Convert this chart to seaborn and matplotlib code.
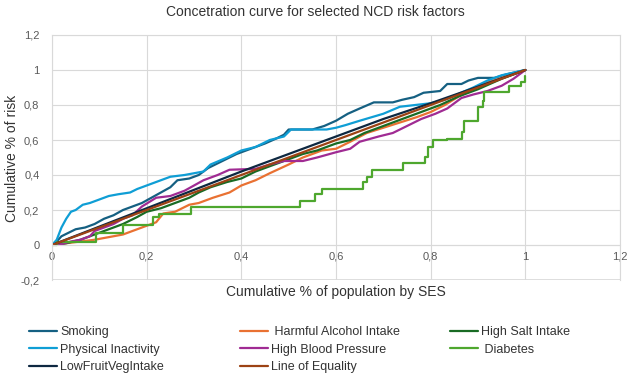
"""
Concentration curves for selected NCD risk factors (Excel-style line chart).
"""

import numpy as np
import pandas as pd
import seaborn as sns
import matplotlib.pyplot as plt
from matplotlib.ticker import FuncFormatter


# données
smoking_x = [0, 0.01, 0.02, 0.035, 0.05, 0.07, 0.09, 0.11, 0.13, 0.15, 0.17, 0.19, 0.21, 0.23, 0.25,
             0.265, 0.29, 0.31, 0.33, 0.36, 0.39, 0.42, 0.45, 0.475, 0.49, 0.5, 0.55, 0.575, 0.6,
             0.625, 0.65, 0.68, 0.72, 0.74, 0.765, 0.785, 0.82, 0.835, 0.865, 0.88, 0.9, 0.935, 0.96, 1.0]
smoking_y = [0, 0.02, 0.05, 0.07, 0.09, 0.10, 0.12, 0.15, 0.17, 0.2, 0.22, 0.24, 0.27, 0.3, 0.33,
             0.37, 0.38, 0.4, 0.44, 0.48, 0.52, 0.55, 0.58, 0.61, 0.63, 0.66, 0.66, 0.68, 0.71,
             0.75, 0.78, 0.815, 0.815, 0.83, 0.845, 0.87, 0.88, 0.92, 0.92, 0.94, 0.955, 0.955, 0.975, 1.0]

inactivity_x = [0, 0.01, 0.02, 0.03, 0.04, 0.05, 0.065, 0.08, 0.1, 0.12, 0.14, 0.165, 0.18, 0.2, 0.22,
                0.25, 0.28, 0.32, 0.335, 0.37, 0.4, 0.43, 0.46, 0.49, 0.505, 0.58, 0.6, 0.62, 0.65,
                0.7, 0.735, 0.8, 0.83, 0.86, 0.89, 0.92, 0.95, 1.0]
inactivity_y = [0, 0.03, 0.1, 0.15, 0.19, 0.2, 0.23, 0.24, 0.26, 0.28, 0.29, 0.3, 0.32, 0.34, 0.36,
                0.39, 0.4, 0.42, 0.46, 0.5, 0.54, 0.56, 0.6, 0.62, 0.66, 0.66, 0.67, 0.685, 0.71,
                0.75, 0.79, 0.81, 0.83, 0.865, 0.9, 0.94, 0.97, 1.0]

fruitveg_x = [0, 0.1, 0.2, 0.3, 0.4, 0.5, 0.6, 0.7, 0.8, 0.9, 1.0]
fruitveg_y = [0, 0.105, 0.21, 0.315, 0.42, 0.52, 0.62, 0.72, 0.81, 0.905, 1.0]

alcohol_x = [0, 0.03, 0.06, 0.09, 0.11, 0.13, 0.15, 0.17, 0.2, 0.22, 0.235, 0.26, 0.29, 0.31, 0.34,
             0.375, 0.4, 0.43, 0.46, 0.5, 0.53, 0.57, 0.6, 0.63, 0.665, 0.7, 0.735, 0.77, 0.8, 0.83,
             0.86, 0.89, 0.92, 0.955, 1.0]
alcohol_y = [0, 0.01, 0.02, 0.03, 0.04, 0.05, 0.06, 0.08, 0.11, 0.13, 0.18, 0.19, 0.23, 0.24, 0.27,
             0.3, 0.34, 0.37, 0.41, 0.46, 0.5, 0.54, 0.55, 0.59, 0.64, 0.67, 0.7, 0.73, 0.76, 0.8,
             0.85, 0.89, 0.93, 0.96, 1.0]

bp_x = [0, 0.02, 0.04, 0.06, 0.08, 0.09, 0.11, 0.13, 0.15, 0.17, 0.19, 0.22, 0.25, 0.28, 0.3, 0.32,
        0.35, 0.375, 0.43, 0.46, 0.49, 0.53, 0.56, 0.6, 0.63, 0.65, 0.69, 0.72, 0.75, 0.78, 0.81,
        0.835, 0.865, 0.89, 0.92, 0.95, 0.975, 1.0]
bp_y = [0, 0.005, 0.02, 0.03, 0.05, 0.08, 0.1, 0.12, 0.15, 0.17, 0.22, 0.27, 0.28, 0.31, 0.34, 0.37,
        0.4, 0.43, 0.435, 0.46, 0.48, 0.48, 0.5, 0.53, 0.55, 0.59, 0.62, 0.64, 0.68, 0.72, 0.75,
        0.78, 0.84, 0.86, 0.88, 0.91, 0.95, 1.0]

salt_x = [0, 0.03, 0.06, 0.09, 0.12, 0.15, 0.18, 0.2, 0.23, 0.26, 0.29, 0.31, 0.335, 0.37, 0.4,
          0.43, 0.46, 0.49, 0.53, 0.56, 0.6, 0.63, 0.66, 0.7, 0.74, 0.78, 0.82, 0.86, 0.9, 0.95, 1.0]
salt_y = [0, 0.01, 0.03, 0.06, 0.09, 0.12, 0.16, 0.19, 0.21, 0.24, 0.27, 0.3, 0.33, 0.36, 0.38,
          0.42, 0.45, 0.48, 0.52, 0.54, 0.58, 0.6, 0.64, 0.68, 0.72, 0.76, 0.8, 0.85, 0.89, 0.95, 1.0]

diabetes_x = [0, 0.01, 0.093, 0.149, 0.213, 0.227, 0.294, 0.524, 0.555, 0.57, 0.657, 0.665, 0.675,
              0.741, 0.788, 0.795, 0.805, 0.835, 0.867, 0.87, 0.9, 0.91, 0.913, 0.965, 0.99, 1.0]
diabetes_y = [0, 0.02, 0.066, 0.114, 0.161, 0.18, 0.218, 0.25, 0.29, 0.322, 0.36, 0.39, 0.43,
              0.468, 0.503, 0.56, 0.6, 0.607, 0.645, 0.71, 0.787, 0.825, 0.872, 0.91, 0.93, 0.965]

equality_x = [0, 1]
equality_y = [0, 1]

x_ticks = [0, 0.2, 0.4, 0.6, 0.8, 1.0, 1.2]
y_ticks = [-0.2, 0, 0.2, 0.4, 0.6, 0.8, 1.0, 1.2]


def comma(v, pos):
    """format excel fr : 0,2"""
    s = f"{v:.1f}".rstrip("0").rstrip(".")
    if s == "-0":
        s = "0"
    return s.replace(".", ",")


def main():
    sns.set_style("white")
    plt.rcParams["font.family"] = ["Liberation Sans", "DejaVu Sans"]

    fig = plt.figure(figsize=(6.3, 3.83), dpi=100)
    ax = fig.add_axes([52 / 630, 1 - 280 / 383, 568 / 630, 245 / 383])

    grid_col = "#D9D9D9"
    lw = 1.6

    # ordre de tracé façon Excel, diagonale à la fin
    series = [
        ("Smoking", smoking_x, smoking_y, "#156082", None),
        (" Harmful Alcohol Intake", alcohol_x, alcohol_y, "#E97132", None),
        ("High Salt Intake", salt_x, salt_y, "#196B24", None),
        ("Physical Inactivity", inactivity_x, inactivity_y, "#0F9ED5", None),
        ("High Blood Pressure", bp_x, bp_y, "#A02B93", None),
        (" Diabetes", diabetes_x, diabetes_y, "#4EA72E", "steps-post"),
        ("LowFruitVegIntake", fruitveg_x, fruitveg_y, "#0E2841", None),
        ("Line of Equality", equality_x, equality_y, "#9C4214", None),
    ]
    for name, xs, ys, col, ds in series:
        df = pd.DataFrame({"x": xs, "y": ys})
        kw = {"drawstyle": ds} if ds else {}
        sns.lineplot(data=df, x="x", y="y", ax=ax, color=col, linewidth=lw,
                     label=name, sort=False, estimator=None, **kw)

    ax.set_xlim(0, 1.2)
    ax.set_ylim(-0.2, 1.2)
    ax.set_xticks(x_ticks)
    ax.set_yticks(y_ticks)
    ax.xaxis.set_major_formatter(FuncFormatter(comma))
    ax.yaxis.set_major_formatter(FuncFormatter(comma))
    ax.grid(True, color=grid_col, linewidth=0.8)
    ax.set_axisbelow(True)
    for sp in ax.spines.values():
        sp.set_color(grid_col)
        sp.set_linewidth(0.8)
    ax.spines["bottom"].set_position(("data", 0))
    ax.tick_params(axis="both", length=0, labelsize=8, labelcolor="#595959")
    ax.tick_params(axis="x", pad=5)
    ax.tick_params(axis="y", pad=9)
    ax.set_xlabel("")
    ax.set_ylabel("")

    # la ligne du bas à -0,2
    ax.axhline(-0.2, color=grid_col, linewidth=1.2, zorder=0)

    fig.text(0.5, 1 - 12 / 383, "Concetration curve for selected NCD risk factors",
             ha="center", va="center", fontsize=10, color="#333333")
    fig.text(336 / 630, 1 - 292 / 383, "Cumulative % of population by SES",
             ha="center", va="center", fontsize=10, color="#333333")
    fig.text(12 / 630, 1 - 158 / 383, "Cumulative % of risk", rotation=90,
             ha="center", va="center", fontsize=10, color="#333333")

    # légende en 3 colonnes
    handles, labels = ax.get_legend_handles_labels()
    ax.get_legend().remove()
    lookup = dict(zip(labels, handles))
    columns = [
        (["Smoking", "Physical Inactivity", "LowFruitVegIntake"], 29),
        ([" Harmful Alcohol Intake", "High Blood Pressure", "Line of Equality"], 240),
        (["High Salt Intake", " Diabetes"], 450),
    ]
    for names, xpos in columns:
        fig.legend([lookup[n] for n in names], names, loc="upper left",
                   bbox_to_anchor=(xpos / 630, 1 - 326 / 383), frameon=False,
                   fontsize=9, handlelength=2.25, handletextpad=0.25,
                   labelspacing=0.45, borderpad=0, borderaxespad=0)
    for t in fig.legends:
        for txt in t.get_texts():
            txt.set_color("#333333")

    fig.savefig("out.png", dpi=100)


if __name__ == "__main__":
    main()
